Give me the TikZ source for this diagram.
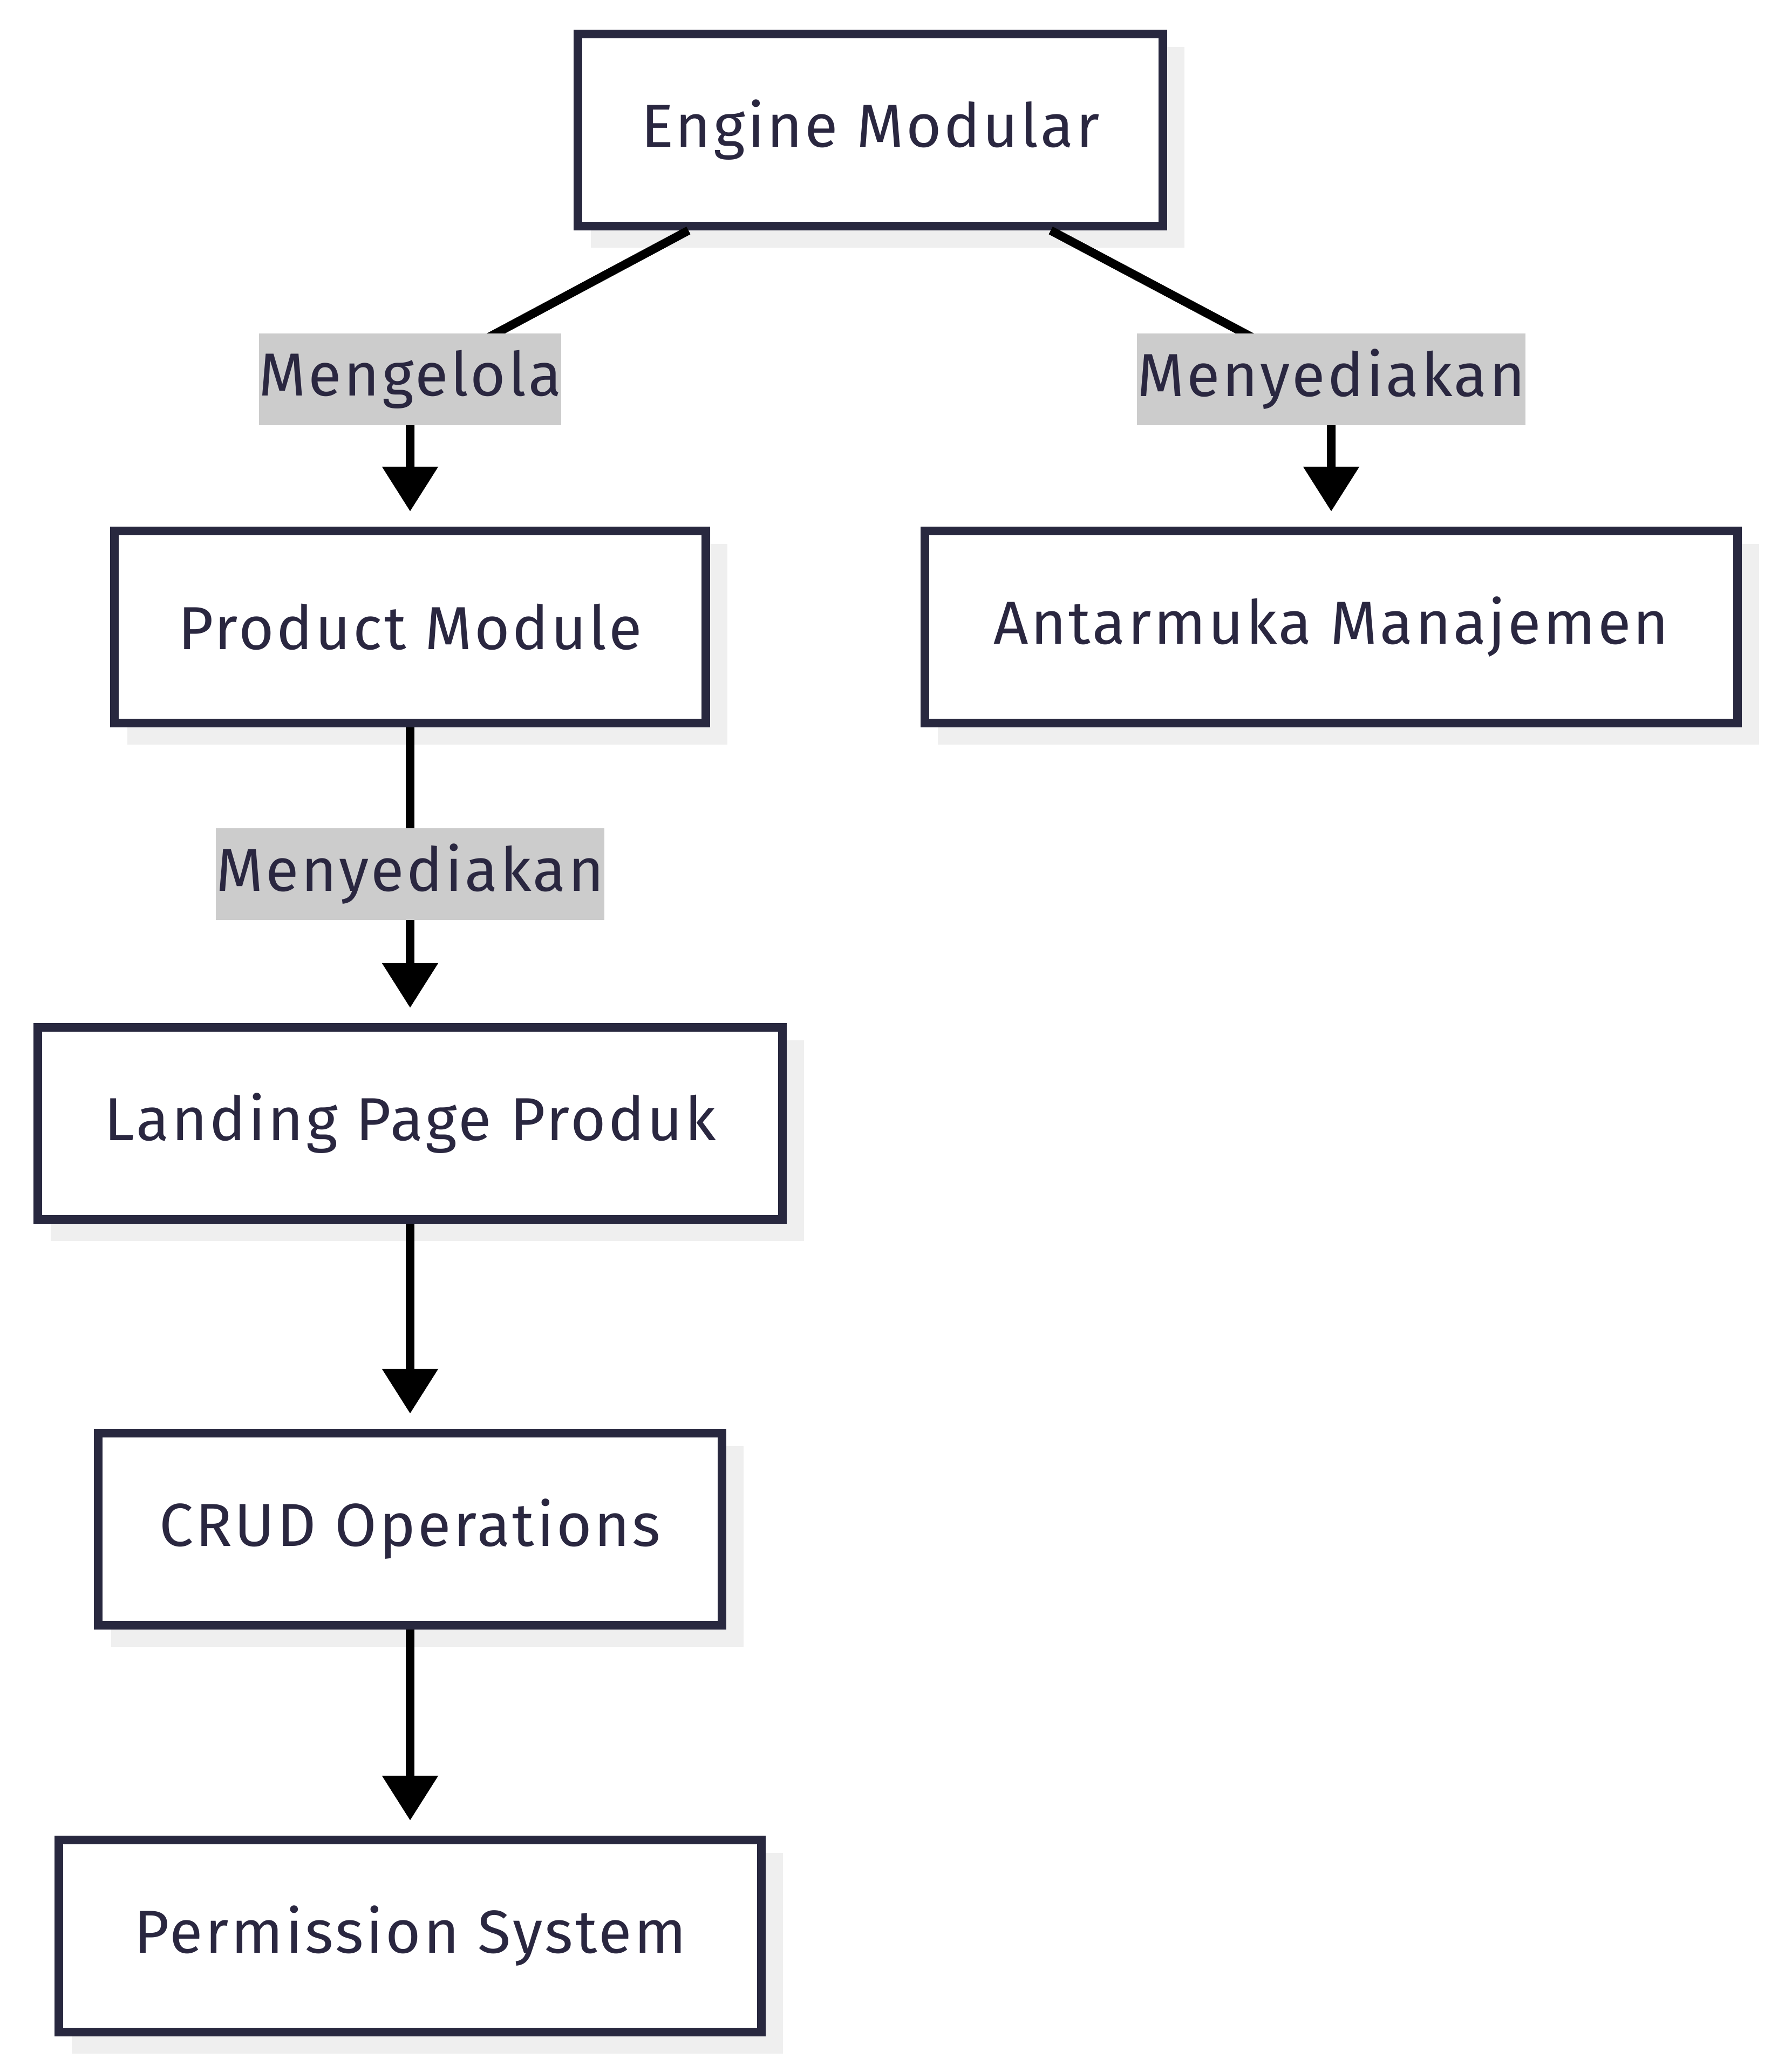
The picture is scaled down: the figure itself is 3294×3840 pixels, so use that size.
\documentclass[tikz,border=0pt]{standalone}
\usepackage{fontspec}
\setmainfont{Fira Sans}[LetterSpace=4]
\usetikzlibrary{arrows.meta,shadows}

\definecolor{boxline}{HTML}{28283F}
\definecolor{boxtext}{HTML}{2A2740}
\definecolor{labelbg}{HTML}{CCCCCC}
\definecolor{shadowgray}{HTML}{EFEFEF}

\begin{document}
\begin{tikzpicture}[x=0.01cm, y=-0.01cm, line width=0.16cm,
    font=\fontsize{32pt}{38pt}\selectfont, text=boxtext]
    \tikzstyle{modbox}=[draw=boxline, fill=white, minimum height=3.56cm, inner sep=0pt,
        drop shadow={shadow xshift=0.32cm, shadow yshift=-0.32cm, fill=shadowgray,
            draw=shadowgray, line width=0.16cm, opacity=1}]
    \tikzstyle{edgelabel}=[fill=labelbg, minimum height=1.69cm, inner sep=0pt]
    \tikzstyle{flow}=[-{Triangle[length=0.83cm,width=1.0cm]}, draw=black, shorten >=0.28cm]

    \useasboundingbox (0,0) rectangle (3294,3840);

    % modules
    \node[modbox, minimum width=10.84cm] (engine) at (1613,241) {Engine Modular};
    \node[modbox, minimum width=10.96cm] (product) at (760,1162) {Product Module};
    \node[modbox, minimum width=15.05cm] (antarmuka) at (2467,1162) {Antarmuka Manajemen};
    \node[modbox, minimum width=13.80cm] (landing) at (760,2082) {Landing Page Produk};
    \node[modbox, minimum width=11.55cm] (crud) at (760,2834) {CRUD Operations};
    \node[modbox, minimum width=13.01cm] (permission) at (760,3588) {Permission System};

    % bends under the labels
    \coordinate (c-mengelola) at (760,703);
    \coordinate (c-sedia1) at (2467,703);
    \coordinate (c-sedia2) at (760,1620);

    \draw[flow] ([xshift=-3.37cm]engine.south) -- (c-mengelola) -- (product);
    \draw[flow] ([xshift=3.34cm]engine.south) -- (c-sedia1) -- (antarmuka);
    \draw[flow] (product) -- (c-sedia2) -- (landing);
    \draw[flow] (landing) -- (crud);
    \draw[flow] (crud) -- (permission);

    \node[edgelabel, minimum width=5.59cm] (l-mengelola) at (c-mengelola) {Mengelola};
    \node[edgelabel, minimum width=7.20cm] (l-sedia1) at (c-sedia1) {Menyediakan};
    \node[edgelabel, minimum width=7.20cm] (l-sedia2) at (c-sedia2) {Menyediakan};
\end{tikzpicture}
\end{document}
